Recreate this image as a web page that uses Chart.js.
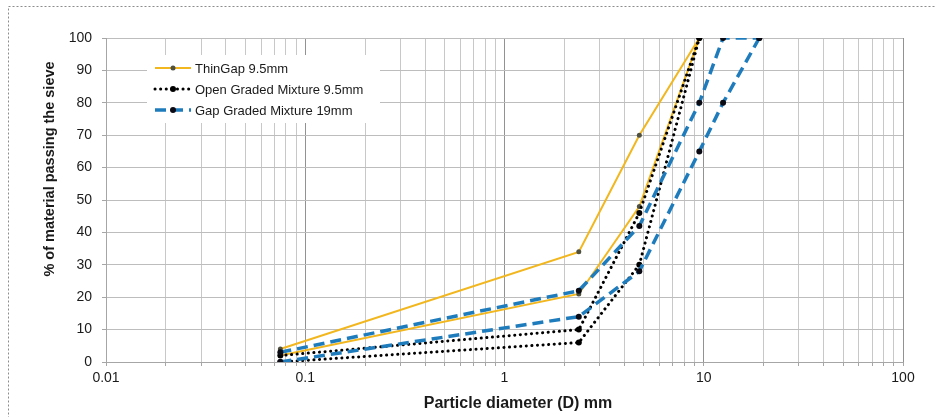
<!DOCTYPE html>
<html>
<head>
<meta charset="utf-8">
<script src="https://cdn.jsdelivr.net/npm/chart.js@4/dist/chart.umd.min.js"></script>
<style>
  html, body { margin: 0; padding: 0; background: #fff; }
  #wrap { width: 936px; height: 417px; position: relative; }
</style>
</head>
<body>
<div id="wrap"><canvas id="grading"></canvas></div>
<script>
// Sieve sizes (mm)
const sieveSizes = [0.075, 2.36, 4.75, 9.5];
const gapSieveSizes = [0.075, 2.36, 4.75, 9.5, 12.5, 19];

// Grading envelopes: % passing, upper and lower limits
const thinGapUpper = [4, 34, 70, 100];
const thinGapLower = [2, 21, 48, 100];
const openGradedUpper = [2, 10, 46, 100];
const openGradedLower = [0, 6, 30, 100];
const gapGradedUpper = [3, 22, 42, 80, 100, 100];
const gapGradedLower = [0, 14, 28, 65, 80, 100];

// Axis ticks
const xMajorTicks = [0.01, 0.1, 1, 10, 100];
const yTicks = [0, 10, 20, 30, 40, 50, 60, 70, 80, 90, 100];

const seriesNames = ['ThinGap 9.5mm', 'Open Graded Mixture 9.5mm', 'Gap Graded Mixture 19mm'];
const xTitle = 'Particle diameter (D) mm';
const yTitle = '% of material passing the sieve';

// Upper and lower limits as one dataset, separated by a gap
function envelope(sizes, upper, lower) {
  const pts = sizes.map((s, i) => ({ x: s, y: upper[i] }));
  pts.push({ x: sizes[sizes.length - 1], y: null });
  sizes.forEach((s, i) => pts.push({ x: s, y: lower[i] }));
  return pts;
}

// Every log grid line: 1..9 x each decade
const xGridTicks = [];
for (let e = -2; e <= 1; e++) {
  for (let m = 1; m <= 9; m++) xGridTicks.push(+(m * Math.pow(10, e)).toPrecision(3));
}
xGridTicks.push(100);
const isMajor = v => xMajorTicks.some(t => Math.abs(t - v) < 1e-9);

const FONT = "'Liberation Sans', Arial, sans-serif";

const pageFrame = {
  id: 'pageFrame',
  beforeDraw(chart) {
    const c = chart.ctx;
    c.save();
    c.fillStyle = '#ffffff';
    c.fillRect(0, 0, chart.width, chart.height);
    c.strokeStyle = '#8c8c8c';
    c.lineWidth = 1;
    c.setLineDash([2, 2]);
    c.strokeRect(8.5, 6.5, 1200, 1200);
    c.restore();
  }
};

// Axis titles placed beside the plot area
const axisTitles = {
  id: 'axisTitles',
  afterDraw(chart) {
    const c = chart.ctx;
    c.save();
    c.fillStyle = '#1a1a1a';
    c.textAlign = 'center';
    c.textBaseline = 'middle';
    c.font = 'bold 16px ' + FONT;
    c.fillText(xTitle, 518, 404);
    c.translate(50, 169);
    c.rotate(-Math.PI / 2);
    c.font = 'bold 14.5px ' + FONT;
    c.fillText(yTitle, 0, 0);
    c.restore();
  }
};

const insetLegend = {
  id: 'insetLegend',
  afterDraw(chart) {
    const c = chart.ctx;
    c.save();
    c.fillStyle = '#ffffff';
    c.fillRect(147, 55, 233, 68);
    const rows = [68, 89, 110];
    chart.data.datasets.forEach((ds, i) => {
      const y = rows[i];
      c.save();
      c.strokeStyle = ds.borderColor;
      c.lineWidth = ds.borderWidth;
      c.lineCap = ds.borderCapStyle || 'butt';
      c.setLineDash(ds.borderDash || []);
      c.beginPath();
      c.moveTo(155, y);
      c.lineTo(191, y);
      c.stroke();
      c.restore();
      c.beginPath();
      c.fillStyle = ds.pointBackgroundColor;
      c.arc(173, y, ds.pointRadius, 0, Math.PI * 2);
      c.fill();
      c.fillStyle = '#1a1a1a';
      c.font = '13px ' + FONT;
      c.textBaseline = 'middle';
      c.textAlign = 'left';
      c.fillText(ds.label, 195, y + 1);
    });
    c.restore();
  }
};

new Chart(document.getElementById('grading'), {
  type: 'line',
  data: {
    datasets: [
      {
        label: seriesNames[0],
        data: envelope(sieveSizes, thinGapUpper, thinGapLower),
        borderColor: '#f2b71f',
        borderWidth: 2,
        pointRadius: 2.5,
        pointBackgroundColor: '#505040',
        pointBorderWidth: 0,
        order: 2
      },
      {
        label: seriesNames[1],
        data: envelope(sieveSizes, openGradedUpper, openGradedLower),
        borderColor: '#000000',
        borderWidth: 3,
        borderDash: [0.1, 5.5],
        borderCapStyle: 'round',
        pointRadius: 3,
        pointBackgroundColor: '#000000',
        pointBorderWidth: 0,
        order: 1
      },
      {
        label: seriesNames[2],
        data: envelope(gapSieveSizes, gapGradedUpper, gapGradedLower),
        borderColor: '#1f7cbc',
        borderWidth: 3.5,
        borderDash: [11, 6],
        pointRadius: 3,
        pointBackgroundColor: '#0a0a14',
        pointBorderWidth: 0,
        order: 0
      }
    ]
  },
  options: {
    responsive: true,
    maintainAspectRatio: false,
    animation: false,
    spanGaps: false,
    layout: { padding: { left: 0, right: 33, top: 38, bottom: 0 } },
    plugins: {
      legend: { display: false },
      tooltip: { enabled: false }
    },
    elements: { line: { tension: 0, fill: false } },
    scales: {
      x: {
        type: 'logarithmic',
        min: 0.01,
        max: 100,
        afterBuildTicks(scale) { scale.ticks = xGridTicks.map(v => ({ value: v })); },
        afterFit(scale) { scale.height = 55; },
        ticks: {
          autoSkip: false,
          maxRotation: 0,
          padding: 4,
          color: '#1a1a1a',
          font: { family: FONT, size: 14 },
          callback: v => (isMajor(v) ? String(v) : '')
        },
        grid: {
          color: ctx => (ctx.tick && isMajor(ctx.tick.value) ? '#929292' : '#c8c8c8'),
          tickLength: 4,
          tickColor: '#a6a6a6'
        },
        border: { color: '#a6a6a6' }
      },
      y: {
        min: 0,
        max: 100,
        afterBuildTicks(scale) { scale.ticks = yTicks.map(v => ({ value: v })); },
        afterFit(scale) { scale.width = 106; },
        ticks: {
          padding: 10,
          color: '#1a1a1a',
          font: { family: FONT, size: 14 }
        },
        grid: {
          color: '#bdbdbd',
          tickLength: 4,
          tickColor: '#a6a6a6'
        },
        border: { color: '#a6a6a6' }
      }
    }
  },
  plugins: [pageFrame, axisTitles, insetLegend]
});
</script>
</body>
</html>
